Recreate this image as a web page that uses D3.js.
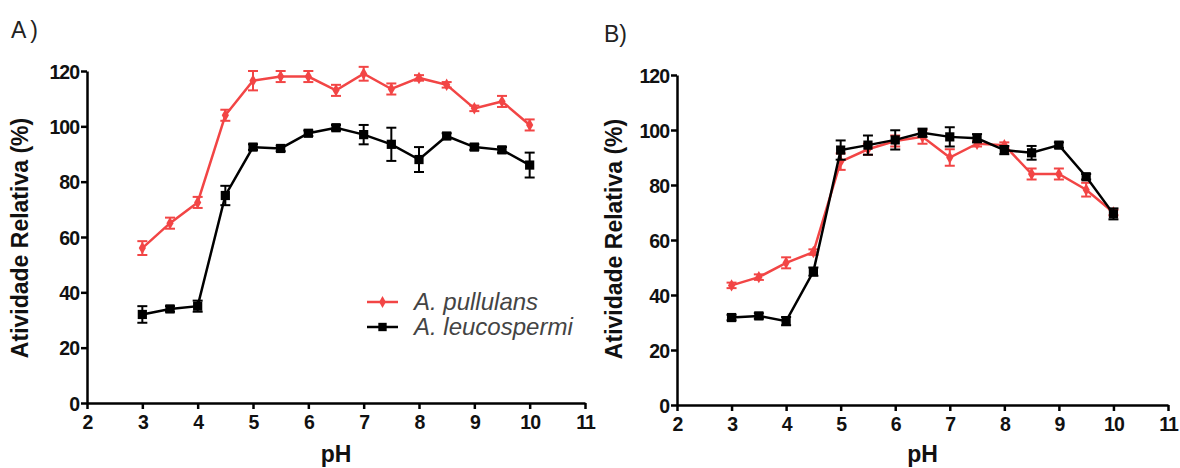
<!DOCTYPE html>
<html>
<head>
<meta charset="utf-8">
<script src="https://cdn.jsdelivr.net/npm/d3@7"></script>
<style>
  body { margin: 0; background: #fff; }
  svg { display: block; font-family: "Liberation Sans", Arial, sans-serif; }
</style>
</head>
<body>
<svg id="chart" width="1180" height="468"></svg>
<script>
// pH values shared by both panels
const pH = [3, 3.5, 4, 4.5, 5, 5.5, 6, 6.5, 7, 7.5, 8, 8.5, 9, 9.5, 10];

// panel A
const pullulansA = [56, 65, 72.5, 104, 116.5, 118, 118, 113, 119, 113.5, 117.5, 115, 106.5, 109, 100.5];
const pullulansErrA = [2.5, 2, 2, 2, 3.5, 2, 2, 2, 2.5, 2, 1, 1, 1, 2, 2];
const leucoA = [32, 34, 35, 75, 92.5, 92, 97.5, 99.5, 97, 93.5, 88, 96.5, 92.5, 91.5, 86];
const leucoErrA = [3, 1, 2, 3.5, 1, 1, 1, 1, 3.5, 6, 4.5, 1, 1, 1, 4.5];

// panel B
const pullulansB = [43.5, 46.5, 51.7, 55.6, 88.5, 93, 96, 97.5, 90, 95, 94.5, 84, 84, 78.3, 70];
const pullulansErrB = [1, 1, 2, 1, 3, 2, 2, 2.5, 3, 1, 1, 2, 2, 2.5, 1];
const leucoB = [31.8, 32.4, 30.5, 48.5, 92.7, 94.5, 96.4, 99, 97.5, 97, 92.7, 91.7, 94.5, 83, 69.5];
const leucoErrB = [1, 1, 1.5, 1.5, 3.5, 3.5, 3.5, 1.5, 3.5, 1.5, 1.5, 2.5, 1, 1, 2];

const xTicks = [2, 3, 4, 5, 6, 7, 8, 9, 10, 11];
const yTicks = [0, 20, 40, 60, 80, 100, 120];
const seriesNames = ['A. pullulans', 'A. leucospermi'];
const red = '#f24545';

const svg = d3.select('#chart');

function drawPanel(opt) {
    const g = svg.append('g');

    var x = d3.scaleLinear().domain([2, 11]).range([opt.left, opt.right]);
    var y = d3.scaleLinear().domain([0, 120]).range([opt.bottom, opt.top]);

    // axes - prism style, thick black, outward ticks
    const xAxis = g.append('g')
        .attr('transform', `translate(0,${opt.bottom})`)
        .call(d3.axisBottom(x).tickValues(xTicks).tickSize(6).tickSizeOuter(0).tickPadding(3));
    const yAxis = g.append('g')
        .attr('transform', `translate(${opt.left},0)`)
        .call(d3.axisLeft(y).tickValues(yTicks).tickSize(6).tickSizeOuter(0).tickPadding(2));

    [xAxis, yAxis].forEach(ax => {
        ax.select('.domain').attr('stroke', '#000').attr('stroke-width', 2.5);
        ax.selectAll('.tick line').attr('stroke', '#000').attr('stroke-width', 2.5);
        ax.selectAll('.tick text')
            .attr('fill', '#111')
            .style('font-size', '19.5px')
            .style('font-weight', 'bold')
            .style('letter-spacing', '-1px');
    });
    xAxis.selectAll('.tick text').attr('dy', '0.85em');
    yAxis.selectAll('.tick text').attr('dy', '0.36em');

    // axis titles
    g.append('text')
        .attr('transform', `translate(${opt.yTitleX},${opt.yTitleY}) rotate(-90)`)
        .attr('text-anchor', 'middle')
        .style('font-size', '23px')
        .style('font-weight', 'bold')
        .attr('fill', '#111')
        .text('Atividade Relativa (%)');
    g.append('text')
        .attr('x', (opt.left + opt.right) / 2)
        .attr('y', 462)
        .attr('text-anchor', 'middle')
        .style('font-size', '23px')
        .style('font-weight', 'bold')
        .attr('fill', '#111')
        .text('pH');

    // panel letter
    g.append('text')
        .attr('x', opt.letterX).attr('y', opt.letterY)
        .style('font-size', '23px')
        .style('letter-spacing', opt.letterSpacing)
        .attr('fill', '#222')
        .text(opt.letter);

    const line = d3.line().x(d => x(d[0])).y(d => y(d[1]));

    // red first, black on top
    const series = [
        { vals: opt.red, err: opt.redErr, color: red, shape: 'diamond' },
        { vals: opt.black, err: opt.blackErr, color: '#000', shape: 'square' }
    ];

    series.forEach(s => {
        const pts = pH.map((p, i) => [p, s.vals[i], s.err[i]]);
        g.append('path')
            .datum(pts)
            .attr('fill', 'none')
            .attr('stroke', s.color)
            .attr('stroke-width', 2.5)
            .attr('d', line);

        // error bars
        const eb = g.append('g').attr('stroke', s.color).attr('stroke-width', 2);
        pts.forEach(d => {
            eb.append('line')
                .attr('x1', x(d[0])).attr('x2', x(d[0]))
                .attr('y1', y(d[1] - d[2])).attr('y2', y(d[1] + d[2]));
            [d[1] - d[2], d[1] + d[2]].forEach(v => {
                eb.append('line')
                    .attr('x1', x(d[0]) - 5).attr('x2', x(d[0]) + 5)
                    .attr('y1', y(v)).attr('y2', y(v));
            });
        });

        const sym = s.shape == 'square'
            ? d3.symbol().type(d3.symbolSquare).size(85)
            : d3.symbol().type(d3.symbolDiamond).size(45);
        g.selectAll(null)
            .data(pts)
            .enter().append('path')
            .attr('d', sym)
            .attr('transform', d => `translate(${x(d[0])},${y(d[1])})`)
            .attr('fill', s.color);
    });

    return g;
}

const gA = drawPanel({
    left: 87, right: 585, top: 71, bottom: 403,
    yTitleX: 28, yTitleY: 238,
    letter: 'A)', letterX: 11, letterY: 38, letterSpacing: '4px',
    red: pullulansA, redErr: pullulansErrA, black: leucoA, blackErr: leucoErrA
});

drawPanel({
    left: 677, right: 1168, top: 75, bottom: 405,
    yTitleX: 622, yTitleY: 239,
    letter: 'B)', letterX: 604, letterY: 42, letterSpacing: '0px',
    red: pullulansB, redErr: pullulansErrB, black: leucoB, blackErr: leucoErrB
});

// legend only in panel A
const legend = gA.append('g');
const legendColors = [red, '#000'];
seriesNames.forEach((name, i) => {
    const ly = 302 + i * 25;
    legend.append('line')
        .attr('x1', 367).attr('x2', 398)
        .attr('y1', ly).attr('y2', ly)
        .attr('stroke', legendColors[i]).attr('stroke-width', 2.5);
    legend.append('path')
        .attr('d', d3.symbol().type(i == 0 ? d3.symbolDiamond : d3.symbolSquare).size(i == 0 ? 40 : 70))
        .attr('transform', `translate(382.5,${ly})`)
        .attr('fill', legendColors[i]);
    legend.append('text')
        .attr('x', 414).attr('y', ly + 8)
        .style('font-size', '24px')
        .style('font-style', 'italic')
        .attr('fill', '#444')
        .text(name);
});
</script>
</body>
</html>
